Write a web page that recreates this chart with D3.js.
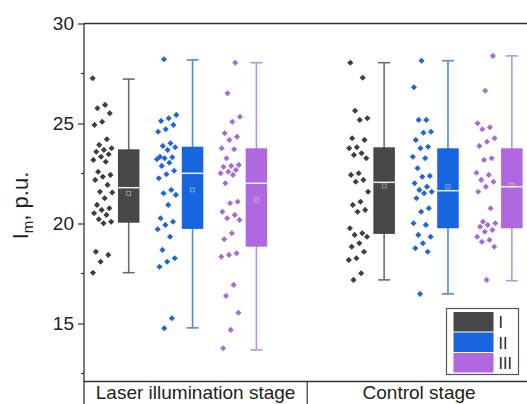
<!DOCTYPE html>
<html><head><meta charset="utf-8">
<script src="https://cdn.jsdelivr.net/npm/d3@7"></script>
<style>html,body{margin:0;padding:0;background:#fff;overflow:hidden}</style>
</head><body><svg id="c" width="527" height="404"></svg>
<script>
// ---- data ----
const stages = ["Laser illumination stage", "Control stage"];
const groups = ["I", "II", "III"];
const positions = [1, 2, 3, 5, 6, 7];
const groupIndex = [0, 1, 2, 0, 1, 2];
const yTicks = [15, 20, 25, 30];

const laserI = [27.26,25.93,25.76,25.51,25.09,24.93,24.21,23.93,23.76,23.68,23.59,23.46,23.34,23.18,23.09,22.59,22.43,22.34,22.18,21.93,21.59,21.55,21.26,20.93,20.76,20.68,20.51,20.43,20.21,20.09,20.01,18.59,18.43,18.09,17.54];
const laserII = [28.21,25.43,25.26,25.13,24.93,24.71,24.59,24.01,23.88,23.81,23.68,23.34,23.31,23.26,23.21,23.04,22.88,22.64,22.46,22.26,21.68,21.51,21.43,20.93,20.26,20.09,19.93,19.71,19.34,18.68,18.26,18.09,17.84,15.26,14.76];
const laserIII = [28.04,26.51,25.34,25.09,24.51,24.34,24.18,23.76,23.71,23.26,22.93,22.88,22.84,22.68,22.59,22.51,22.43,22.01,21.09,21.01,20.59,20.43,20.26,20.18,19.51,19.21,18.51,18.43,18.34,16.93,16.38,15.54,14.68,13.76];
const controlI = [28.04,27.29,25.64,25.26,25.18,24.26,24.18,23.81,23.76,23.51,23.43,23.26,22.51,22.43,22.18,22.09,21.59,21.09,20.93,20.68,20.59,19.76,19.51,19.43,19.34,19.01,18.84,18.59,18.26,18.18,17.51,17.18];
const controlII = [28.14,26.81,25.18,25.18,24.59,24.54,24.18,23.84,23.76,23.34,23.26,22.76,22.38,22.34,22.01,21.84,21.68,21.59,21.51,21.26,20.76,20.59,20.01,19.93,19.43,19.34,19.01,18.76,18.59,16.48];
const controlIII = [28.38,26.64,25.01,24.81,24.71,24.26,24.09,23.88,23.26,23.18,22.54,22.43,22.18,22.09,21.84,21.59,20.76,20.09,20.01,19.93,19.84,19.68,19.59,19.34,19.18,19.09,18.84,17.18];
const seriesValues = [laserI, laserII, laserIII, controlI, controlII, controlIII];

// box statistics
const q1 =     [20.04, 19.73, 18.84, 19.48, 19.76, 19.76];
const median = [21.79, 22.51, 22.01, 22.06, 21.64, 21.84];
const q3 =     [23.71, 23.84, 23.76, 23.81, 23.76, 23.76];
const wLow =   [17.54, 14.78, 13.68, 17.18, 16.48, 17.14];
const wHigh =  [27.22, 28.18, 28.04, 28.04, 28.14, 28.38];
const means =  [21.50, 21.68, 21.18, 21.88, 21.84, 21.90];

// ---- styles ----
const fillCol = ["#474747", "#1766e0", "#b068e0"];
const lineCol = ["#6e6e6e", "#4f89e4", "#b892e4"];
const dotCol  = ["#3e3e3e", "#1f66d6", "#a96ad9"];
const font = "'Liberation Sans', Arial, sans-serif";

const svg = d3.select("#c");
const L = 84, R = 531, T = 23.5, B = 383.5;
const x = d3.scaleLinear().domain([0.3, 7.3]).range([L, R]);
const y = d3.scaleLinear().domain([12, 30]).range([B, T]);

// frame: top line & left axis
svg.append("line").attr("x1", L).attr("x2", R).attr("y1", T).attr("y2", T)
  .attr("stroke", "#333").attr("stroke-width", 1.3);
svg.append("line").attr("x1", L).attr("x2", L).attr("y1", T).attr("y2", 404)
  .attr("stroke", "#333").attr("stroke-width", 1.3);
svg.append("line").attr("x1", L).attr("x2", R).attr("y1", B - 2).attr("y2", B - 2)
  .attr("stroke", "#333").attr("stroke-width", 1.3);

// y axis
const yAxis = d3.axisLeft(y).tickValues(yTicks).tickSize(6).tickPadding(4);
const gy = svg.append("g").attr("transform", `translate(${L},0)`).call(yAxis);
gy.select(".domain").remove();
gy.selectAll("line").attr("stroke", "#333").attr("stroke-width", 1.2);
gy.selectAll("text").attr("font-family", font).attr("font-size", 19).attr("fill", "#222");
const minor = [12.5, 17.5, 22.5, 27.5];
svg.append("g").selectAll("line").data(minor).join("line")
  .attr("x1", L - 3).attr("x2", L).attr("y1", d => y(d)).attr("y2", d => y(d))
  .attr("stroke", "#333").attr("stroke-width", 1.2);

// y title
const yt = svg.append("text").attr("transform", `translate(28,${y(20.9)}) rotate(-90)`)
  .attr("text-anchor", "middle").attr("font-family", font).attr("font-size", 22).attr("fill", "#222");
yt.append("tspan").text("I");
yt.append("tspan").attr("font-size", 15).attr("dy", 5).text("m");
yt.append("tspan").attr("dy", -5).text(", p.u.");

// stage band
const divX = x(3.795);
svg.append("line").attr("x1", divX).attr("x2", divX).attr("y1", B - 2).attr("y2", 404)
  .attr("stroke", "#333").attr("stroke-width", 1.2);
svg.append("g").selectAll("text").data(stages).join("text")
  .attr("x", (d, i) => i === 0 ? (L + divX) / 2 : (divX + R) / 2)
  .attr("y", 399).attr("text-anchor", "middle")
  .attr("font-family", font).attr("font-size", 19).attr("fill", "#222").text(d => d);

// boxes
const bw = 21.5, cap = 12, scatOff = -26, jit = 10;
const g = svg.append("g");
positions.forEach((p, i) => {
  const cx = x(p), gi = groupIndex[i];
  // whiskers
  g.append("line").attr("x1", cx).attr("x2", cx).attr("y1", y(wLow[i])).attr("y2", y(wHigh[i]))
    .attr("stroke", lineCol[gi]).attr("stroke-width", 1.6);
  [wLow[i], wHigh[i]].forEach(v => g.append("line").attr("x1", cx - cap / 2).attr("x2", cx + cap / 2)
    .attr("y1", y(v)).attr("y2", y(v)).attr("stroke", lineCol[gi]).attr("stroke-width", 1.6));
  // box
  g.append("rect").attr("x", cx - bw / 2).attr("width", bw).attr("y", y(q3[i]))
    .attr("height", y(q1[i]) - y(q3[i])).attr("fill", fillCol[gi]);
  // median
  g.append("line").attr("x1", cx - bw / 2).attr("x2", cx + bw / 2).attr("y1", y(median[i])).attr("y2", y(median[i]))
    .attr("stroke", "#ffffff").attr("stroke-width", 1.5).attr("opacity", 0.9);
  // mean
  g.append("rect").attr("x", cx - 2).attr("y", y(means[i]) - 2).attr("width", 4).attr("height", 4)
    .attr("fill", "none").attr("stroke", "#ffffff").attr("stroke-opacity", 0.55).attr("stroke-width", 0.8);
  // points
  const sym = d3.symbol().type(d3.symbolDiamond2).size(24);
  g.append("g").selectAll("path").data(seriesValues[i]).join("path")
    .attr("d", sym)
    .attr("transform", (v, k) => {
      const f = ((k * 0.6180339 + i * 0.37) % 1) * 2 - 1;
      return `translate(${cx + scatOff + f * jit},${y(v)})`;
    })
    .attr("fill", dotCol[gi]);
});

// legend
const lx = 446.5, ly = 308.5, lw = 72, lh = 66;
svg.append("rect").attr("x", lx).attr("y", ly).attr("width", lw).attr("height", lh)
  .attr("fill", "#fff").attr("stroke", "#555").attr("stroke-width", 1.2);
groups.forEach((gname, k) => {
  svg.append("rect").attr("x", lx + 7).attr("y", ly + 3.5 + k * 20.5).attr("width", 40).attr("height", 19.5)
    .attr("fill", fillCol[k]);
  svg.append("text").attr("x", lx + 52).attr("y", ly + 19.5 + k * 20.5)
    .attr("font-family", font).attr("font-size", 16).attr("fill", "#222").text(gname);
});
</script></body></html>
